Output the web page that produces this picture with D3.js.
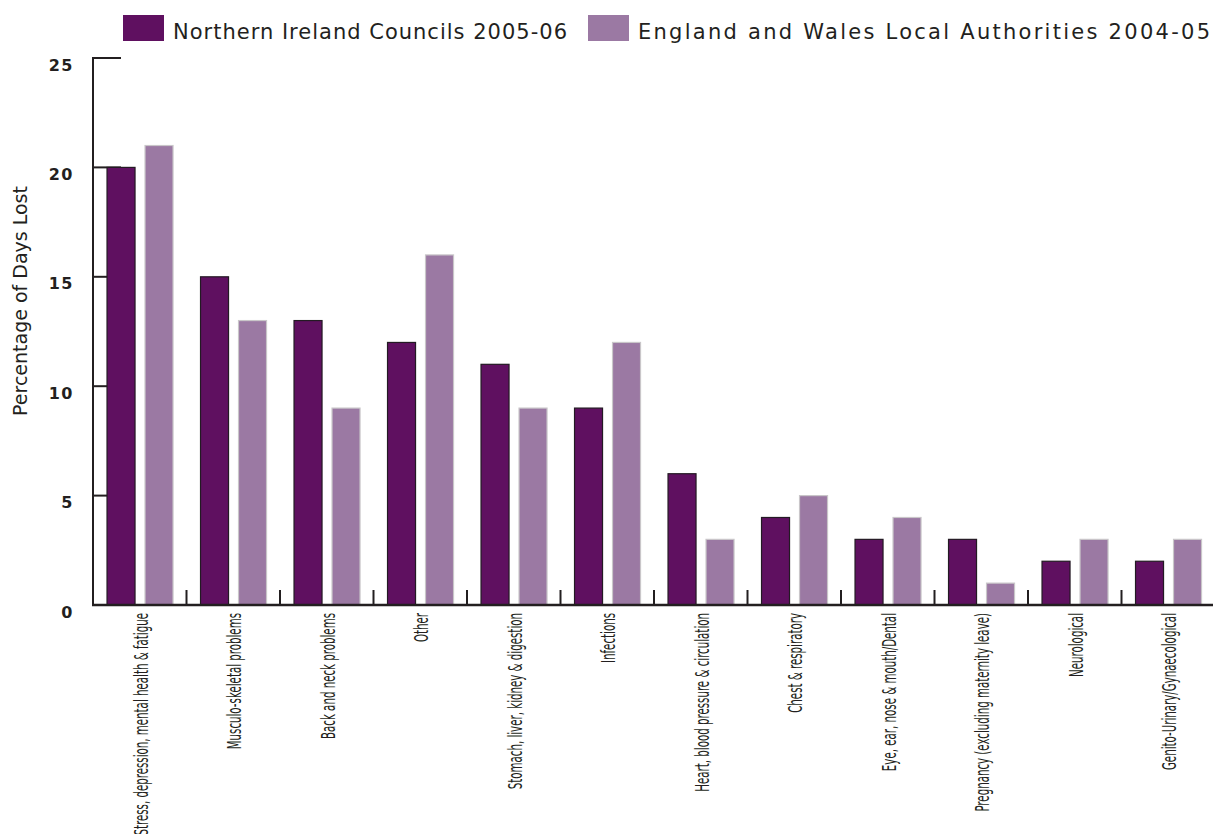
<!DOCTYPE html>
<html>
<head>
<meta charset="utf-8">
<script src="https://cdn.jsdelivr.net/npm/d3@7"></script>
<style>
  body { margin: 0; background: #fff; }
  svg { display: block; }
</style>
</head>
<body>
<div id="chart"></div>
<script>
// Categories and values
const categories = [
    "Stress, depression, mental health & fatigue",
    "Musculo-skeletal problems",
    "Back and neck problems",
    "Other",
    "Stomach, liver, kidney & digestion",
    "Infections",
    "Heart, blood pressure & circulation",
    "Chest & respiratory",
    "Eye, ear, nose & mouth/Dental",
    "Pregnancy (excluding maternity leave)",
    "Neurological",
    "Genito-Urinary/Gynaecological"
];
const seriesNames = ["Northern Ireland Councils 2005-06", "England and Wales Local Authorities 2004-05"];
const niValues = [20, 15, 13, 12, 11, 9, 6, 4, 3, 3, 2, 2];
const ewValues = [21, 13, 9, 16, 9, 12, 3, 5, 4, 1, 3, 3];
const yTicks = [0, 5, 10, 15, 20, 25];

const colors = ["#5f1060", "#9b79a3"];
const strokes = ["#231a23", "#c9c6c9"];

const width = 1213, height = 834;
const axisColor = "#231f20";

const svg = d3.select("#chart")
    .append("svg")
    .attr("width", width)
    .attr("height", height);

// Scales
const x = d3.scaleBand()
    .domain(categories)
    .range([93, 1215])
    .padding(0);

const xInner = d3.scaleBand()
    .domain(seriesNames)
    .range([x.bandwidth() * 0.15, x.bandwidth() * 0.856])
    .paddingInner(0.263)
    .paddingOuter(0);

const y = d3.scaleLinear()
    .domain([0, 25])
    .range([605, 58]);

// y tick marks (drawn under the bars)
svg.append("g")
    .selectAll("line")
    .data(yTicks.filter(d => d > 0))
    .enter()
    .append("line")
    .attr("x1", 93)
    .attr("x2", 121)
    .attr("y1", d => y(d))
    .attr("y2", d => y(d))
    .attr("stroke", axisColor)
    .attr("stroke-width", 2);

// Bars
const data = categories.map((c, i) => ({ cat: c, vals: [niValues[i], ewValues[i]] }));

const groups = svg.append("g")
    .selectAll("g")
    .data(data)
    .enter()
    .append("g")
    .attr("transform", d => `translate(${x(d.cat)},0)`);

groups.selectAll("rect")
    .data(d => d.vals.map((v, j) => ({ series: seriesNames[j], value: v, j: j })))
    .enter()
    .append("rect")
    .attr("x", d => xInner(d.series))
    .attr("y", d => y(d.value))
    .attr("width", xInner.bandwidth())
    .attr("height", d => y(0) - y(d.value))
    .attr("fill", d => colors[d.j])
    .attr("stroke", d => strokes[d.j])
    .attr("stroke-width", 1.2);

// y axis line
svg.append("line")
    .attr("x1", 93).attr("x2", 93)
    .attr("y1", y(25) - 1).attr("y2", y(0) + 1)
    .attr("stroke", axisColor)
    .attr("stroke-width", 2);

// x axis line
svg.append("line")
    .attr("x1", 92).attr("x2", width)
    .attr("y1", y(0)).attr("y2", y(0))
    .attr("stroke", axisColor)
    .attr("stroke-width", 2.5);

// x separator ticks between groups
svg.append("g")
    .selectAll("line")
    .data(categories.slice(1))
    .enter()
    .append("line")
    .attr("x1", d => x(d))
    .attr("x2", d => x(d))
    .attr("y1", y(0) - 15)
    .attr("y2", y(0))
    .attr("stroke", axisColor)
    .attr("stroke-width", 2);

// y tick labels
svg.append("g")
    .selectAll("text")
    .data(yTicks)
    .enter()
    .append("text")
    .attr("x", 74)
    .attr("y", d => y(d) + 7)
    .attr("dy", "0.35em")
    .attr("text-anchor", "end")
    .style("font-family", "DejaVu Sans, Verdana, sans-serif")
    .style("font-weight", "bold")
    .style("font-size", "16px")
    .style("letter-spacing", "1.5px")
    .attr("fill", axisColor)
    .text(d => d);

// x category labels (rotated, condensed) - the first one runs off the bottom, as in the original
svg.append("g")
    .selectAll("text")
    .data(categories)
    .enter()
    .append("text")
    .attr("transform", d => `translate(${x(d) + x.bandwidth() / 2 + 8},613) rotate(-90) scale(0.57,1)`)
    .attr("text-anchor", "end")
    .style("font-family", "DejaVu Sans Condensed, DejaVu Sans, sans-serif")
    .style("font-size", "20px")
    .attr("fill", axisColor)
    .text(d => d);

// y axis title
svg.append("text")
    .attr("transform", "translate(27,301) rotate(-90)")
    .attr("text-anchor", "middle")
    .style("font-family", "DejaVu Sans, Verdana, sans-serif")
    .style("font-size", "19px")
    .attr("fill", axisColor)
    .text("Percentage of Days Lost");

// Legend
const legendX = [123, 588];
const legendTextLen = [394, 572];
const legend = svg.append("g")
    .selectAll("g")
    .data(seriesNames)
    .enter()
    .append("g")
    .attr("transform", (d, i) => `translate(${legendX[i]},15)`);

legend.append("rect")
    .attr("width", 41)
    .attr("height", 26)
    .attr("fill", (d, i) => colors[i]);

legend.append("text")
    .attr("x", 50)
    .attr("y", 24)
    .attr("textLength", (d, i) => legendTextLen[i])
    .attr("lengthAdjust", "spacing")
    .style("font-family", "DejaVu Sans, Verdana, sans-serif")
    .style("font-size", "21px")
    .attr("fill", axisColor)
    .text(d => d);
</script>
</body>
</html>
